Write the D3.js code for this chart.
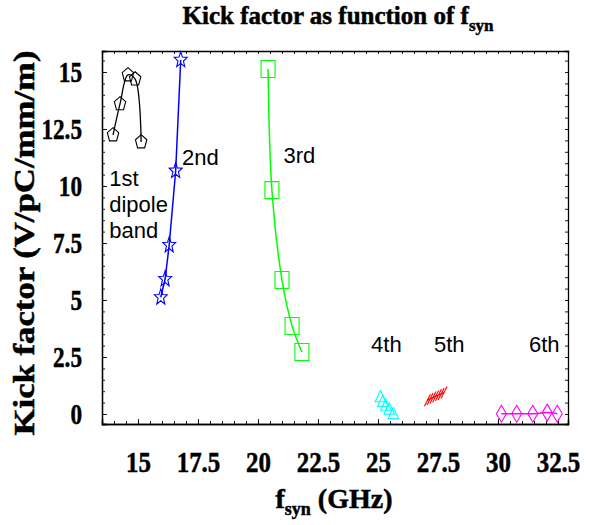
<!DOCTYPE html>
<html>
<head>
<meta charset="utf-8">
<script src="https://cdn.jsdelivr.net/npm/d3@7"></script>
<style>
  body { margin: 0; background: #fff; }
  svg { display: block; }
</style>
</head>
<body>
<div id="chart"></div>
<script>
// kick factor per passband
const band1F = [13.96, 14.25, 14.58, 14.88, 15.13];
const band1K = [12.24, 13.6, 14.87, 14.69, 11.93];
const band2F = [16.78, 16.57, 16.3, 16.13, 15.95];
const band2K = [15.53, 10.67, 7.41, 5.92, 5.12];
const band3F = [20.42, 20.58, 21.0, 21.42, 21.83];
const band3K = [15.13, 9.82, 5.88, 3.86, 2.72];
const band4F = [25.1, 25.2, 25.33, 25.47, 25.64];
const band4K = [0.7, 0.5, 0.33, 0.16, -0.04];
const band5F = [27.06, 27.17, 27.29, 27.4, 27.52, 27.63, 27.75];
const band5K = [0.6, 0.66, 0.72, 0.77, 0.83, 0.88, 0.94];
const band6F = [30.14, 30.78, 31.45, 32.05, 32.47];
const band6K = [0.01, 0.01, 0.01, 0.06, 0.01];
const bandLabels = [
    {lines: ["1st", "dipole", "band"], f: 13.8, k: 10.0},
    {lines: ["2nd"], f: 16.83, k: 10.93},
    {lines: ["3rd"], f: 21.06, k: 11.0},
    {lines: ["4th"], f: 24.71, k: 2.72},
    {lines: ["5th"], f: 27.33, k: 2.72},
    {lines: ["6th"], f: 31.29, k: 2.72}
];
const xTicks = [15, 17.5, 20, 22.5, 25, 27.5, 30, 32.5];
const yTicks = [0, 2.5, 5, 7.5, 10, 12.5, 15];

const W = 589, H = 525;
const plotL = 102, plotR = 568, plotT = 51, plotB = 424;

const svg = d3.select("#chart").append("svg")
    .attr("width", W).attr("height", H);

const x = d3.scaleLinear().domain([13.5, 32.9167]).range([plotL, plotR]);
const y = d3.scaleLinear().domain([-0.439, 15.921]).range([plotB, plotT]);

const serif = "'Liberation Serif', 'Times New Roman', serif";
const sans = "'Liberation Sans', Arial, sans-serif";

// minor ticks every 0.5, inward on all four sides
const xMinor = d3.range(14, 33, 0.5);
const yMinor = d3.range(0, 16, 0.5);

function frameAxis(axisFn, scale, pos, values, size) {
    const g = svg.append("g")
        .attr("transform", pos)
        .call(axisFn(scale).tickValues(values).tickSize(size).tickFormat(""));
    g.select(".domain").attr("stroke", "#000").attr("stroke-width", 1.3);
    g.selectAll(".tick line").attr("stroke", "#000").attr("stroke-width", 0.9);
    return g;
}
frameAxis(d3.axisBottom, x, `translate(0,${plotB})`, xMinor, -3);
frameAxis(d3.axisTop, x, `translate(0,${plotT})`, xMinor, -3);
frameAxis(d3.axisLeft, y, `translate(${plotL},0)`, yMinor, -3);
frameAxis(d3.axisRight, y, `translate(${plotR},0)`, yMinor, -3);

// heavy condensed serif used for all the axis text
function boldSerif(sel, size) {
    return sel.attr("fill", "#000")
        .attr("stroke", "#000").attr("stroke-width", 0.5)
        .style("font-family", serif).style("font-weight", "bold")
        .style("font-size", size + "px");
}

// major ticks with labels
const gx = frameAxis(d3.axisBottom, x, `translate(0,${plotB})`, xTicks, -5);
gx.call(g => g.selectAll(".tick text").remove());
gx.selectAll(".tick").append("text")
    .attr("y", 48)
    .attr("transform", "scale(0.86,1)")
    .attr("text-anchor", "middle")
    .call(boldSerif, 29)
    .text(d => d);

const gy = frameAxis(d3.axisLeft, y, `translate(${plotL},0)`, yTicks, -5);
gy.call(g => g.selectAll(".tick text").remove());
gy.selectAll(".tick").append("text")
    .attr("transform", "translate(-20,0) scale(0.8,1)")
    .attr("dy", "0.34em")
    .attr("text-anchor", "end")
    .call(boldSerif, 29)
    .text(d => d);

// titles
const title = svg.append("text")
    .attr("x", 338).attr("y", 24)
    .attr("text-anchor", "middle")
    .call(boldSerif, 25);
title.append("tspan").text("Kick factor as function of f");
title.append("tspan").attr("dy", 7).style("font-size", "17px").text("syn");

const xTitle = svg.append("text")
    .attr("x", 334).attr("y", 508)
    .attr("text-anchor", "middle")
    .call(boldSerif, 28);
xTitle.append("tspan").text("f");
xTitle.append("tspan").attr("dy", 7).style("font-size", "18px").text("syn");
xTitle.append("tspan").attr("dy", -7).text(" (GHz)");

svg.append("text")
    .attr("transform", "translate(34,243) rotate(-90)")
    .attr("text-anchor", "middle")
    .attr("textLength", 385).attr("lengthAdjust", "spacingAndGlyphs")
    .call(boldSerif, 30)
    .text("Kick factor (V/pC/mm/m)");

// marker shapes, squeezed horizontally like the original
const sx = 0.82;
function polygon(n, r, rot) {
    return d3.range(n).map(i => {
        const a = rot + i * 2 * Math.PI / n;
        return [sx * r * Math.sin(a), -r * Math.cos(a)];
    });
}
function star(r1, r2) {
    return d3.range(10).map(i => {
        const a = i * Math.PI / 5, r = i % 2 ? r2 : r1;
        return [sx * r * Math.sin(a), -r * Math.cos(a)];
    });
}
const pathOf = pts => "M" + pts.map(p => p.join(",")).join("L") + "Z";
const shapes = {
    pentagon: pathOf(polygon(5, 7.3, 0)),
    star: pathOf(star(8.3, 3.5)),
    square: "M-7,-8.5L7,-8.5L7,8.5L-7,8.5Z",
    triangle: pathOf(polygon(3, 7.5, 0)),
    diamond: "M0,-8.5L5,0L0,8.5L-5,0Z",
    slash: "M-3,6L3,-6"
};

function series(fs, ks, color, shape, curve, lineWidth) {
    const pts = fs.map((f, i) => [f, ks[i]]);
    if (curve) {
        svg.append("path")
            .datum(pts)
            .attr("fill", "none")
            .attr("stroke", color)
            .attr("stroke-width", lineWidth)
            .attr("d", d3.line().x(d => x(d[0])).y(d => y(d[1])).curve(curve));
    }
    svg.append("g").selectAll("path")
        .data(pts)
        .join("path")
        .attr("transform", d => `translate(${x(d[0])},${y(d[1])})`)
        .attr("d", shapes[shape])
        .attr("fill", "none")
        .attr("stroke", color)
        .attr("stroke-width", 1.1);
}

series(band1F, band1K, "#000000", "pentagon", d3.curveCatmullRom, 1.3);
series(band2F, band2K, "#0000ff", "star", d3.curveLinear, 1.5);
series(band3F, band3K, "#00ff00", "square", d3.curveCatmullRom, 1.5);
series(band4F, band4K, "#00ffff", "triangle", null, 1.2);
series(band5F, band5K, "#ff0000", "slash", d3.curveLinear, 1.5);
series(band6F, band6K, "#ff00ff", "diamond", d3.curveCatmullRom, 1.5);

// band names
bandLabels.forEach(b => {
    const t = svg.append("text")
        .attr("x", x(b.f)).attr("y", y(b.k))
        .style("font-family", sans).style("font-size", "22px");
    b.lines.forEach((line, i) => {
        t.append("tspan").attr("x", x(b.f)).attr("dy", i ? 26 : 0).text(line);
    });
});
</script>
</body>
</html>
